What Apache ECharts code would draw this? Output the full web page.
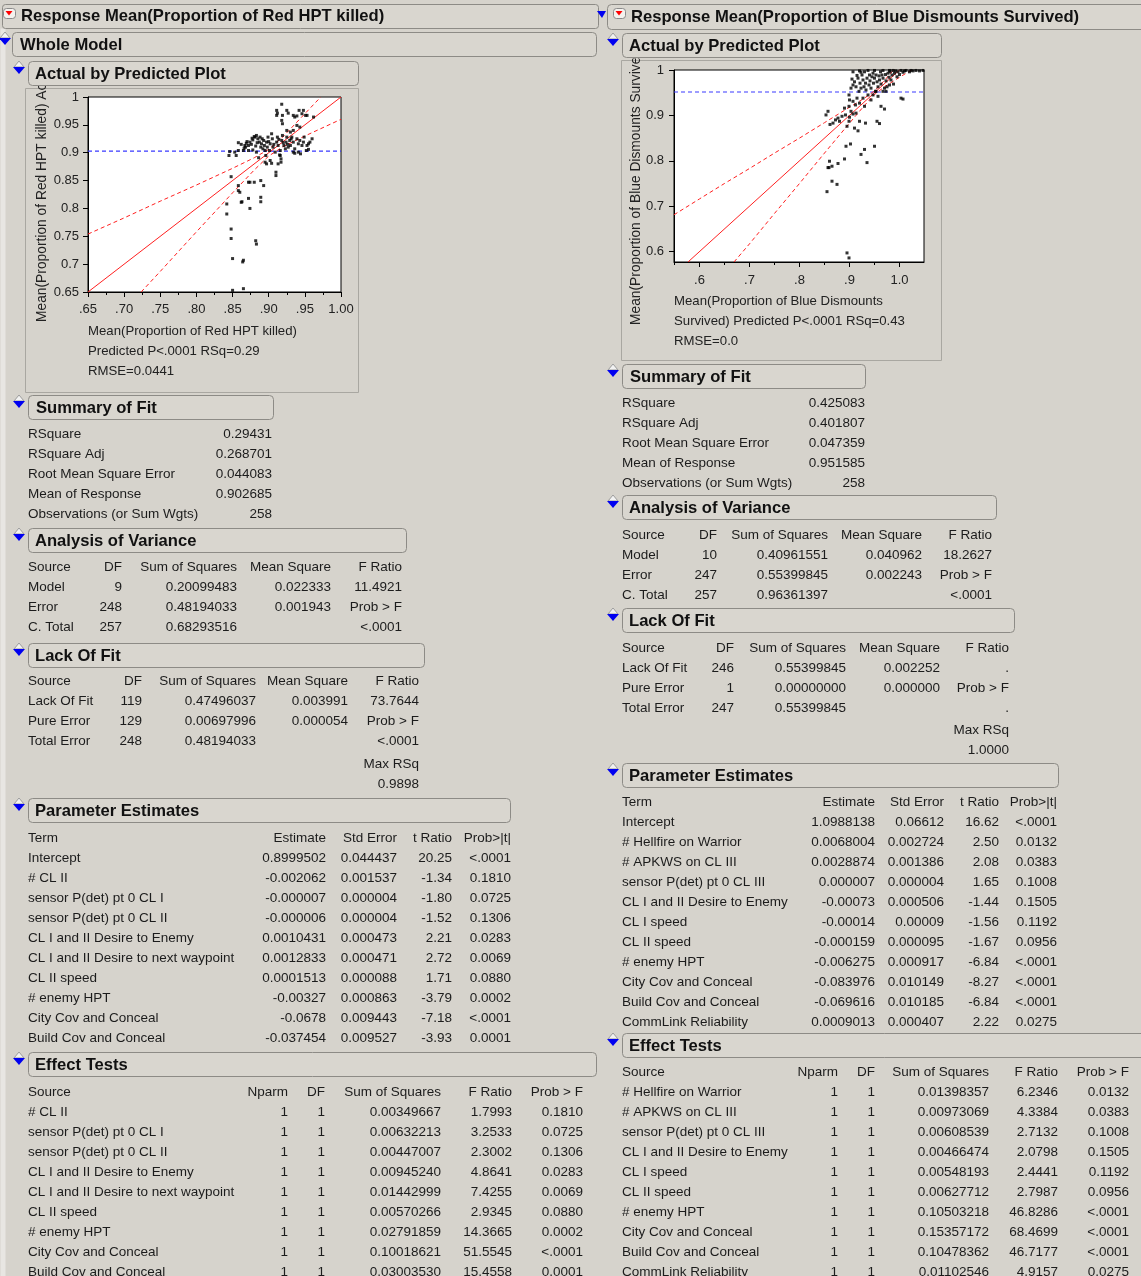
<!DOCTYPE html>
<html><head><meta charset="utf-8">
<script src="https://cdn.jsdelivr.net/npm/echarts@6/dist/echarts.min.js"></script>
<style>html,body{margin:0;padding:0;background:#d6d3cc;}#c{width:1141px;height:1276px;}</style>
</head><body><div id="c"></div>
<script>
// ---------------- DATA ----------------
const leftTitle = 'Response Mean(Proportion of Red HPT killed)';
const rightTitle = 'Response Mean(Proportion of Blue Dismounts Survived)';
const sectionTitles = ['Whole Model','Actual by Predicted Plot','Summary of Fit','Analysis of Variance','Lack Of Fit','Parameter Estimates','Effect Tests'];

// Actual by predicted plots
const leftXTicks = [0.65,0.70,0.75,0.80,0.85,0.90,0.95,1.00];
const leftXTickLabels = ['.65','.70','.75','.80','.85','.90','.95','1.00'];
const leftXMinorTicks = [0.675,0.725,0.775,0.825,0.875,0.925,0.975];
const leftYTicks = [0.65,0.70,0.75,0.80,0.85,0.90,0.95,1.00];
const leftYTickLabels = ['0.65','0.7','0.75','0.8','0.85','0.9','0.95','1'];
const leftAxisText = ['Mean(Proportion of Red HPT killed)','Predicted P<.0001 RSq=0.29','RMSE=0.0441'];
const leftYName = 'Mean(Proportion of Red HPT killed) Actual';
const leftPoints = [
[0.845,0.895],[0.846,0.902],[0.858,0.918],[0.842,0.808],[0.842,0.790],[0.848,0.857],[0.848,0.763],[0.848,0.746],[0.850,0.710],[0.850,0.653],
[0.858,0.841],[0.858,0.832],[0.860,0.829],[0.862,0.811],[0.863,0.812],[0.864,0.704],[0.865,0.707],[0.865,0.656],[0.872,0.847],[0.874,0.847],
[0.880,0.847],[0.872,0.818],[0.874,0.800],[0.882,0.742],[0.883,0.736],[0.889,0.850],[0.893,0.841],[0.889,0.820],[0.889,0.812],[0.910,0.865],
[0.910,0.859],[0.902,0.886],[0.913,0.880],
[0.853,0.901],[0.855,0.895],[0.858,0.904],[0.867,0.913],[0.868,0.910],[0.869,0.917],[0.872,0.913],[0.874,0.919],[0.878,0.923],[0.880,0.929],
[0.881,0.928],[0.883,0.931],[0.885,0.925],[0.887,0.919],[0.888,0.928],[0.889,0.910],[0.890,0.916],[0.893,0.922],[0.894,0.913],[0.895,0.904],
[0.896,0.895],[0.897,0.919],[0.898,0.910],[0.899,0.928],[0.901,0.904],[0.902,0.916],[0.904,0.934],[0.905,0.925],[0.906,0.910],[0.909,0.901],
[0.911,0.919],[0.912,0.928],[0.913,0.913],[0.915,0.896],[0.916,0.904],[0.917,0.889],[0.918,0.922],[0.919,0.931],[0.921,0.913],[0.923,0.907],
[0.924,0.919],[0.925,0.928],[0.927,0.910],[0.929,0.922],[0.930,0.913],[0.932,0.928],[0.934,0.919],[0.936,0.907],[0.939,0.925],[0.941,0.916],
[0.943,0.922],[0.946,0.913],[0.948,0.919],[0.949,0.928],[0.934,0.901],[0.936,0.899],[0.941,0.901],[0.944,0.898],[0.953,0.913],[0.955,0.916],
[0.957,0.919],[0.960,0.925],[0.952,0.904],[0.955,0.906],[0.865,0.904],[0.872,0.904],[0.878,0.905],[0.883,0.901],[0.886,0.891],[0.895,0.883],
[0.897,0.880],[0.904,0.881],[0.916,0.895],[0.917,0.883],
[0.870,0.920],[0.876,0.915],[0.884,0.918],[0.891,0.925],[0.900,0.920],[0.907,0.915],[0.914,0.924],[0.920,0.918],[0.926,0.915],[0.931,0.925],
[0.862,0.915],[0.866,0.908],[0.877,0.926],[0.882,0.912],[0.892,0.907],
[0.911,0.976],[0.911,0.967],[0.912,0.971],[0.918,0.987],[0.919,0.967],[0.918,0.958],[0.919,0.952],[0.925,0.976],[0.927,0.971],[0.934,0.967],
[0.936,0.964],[0.939,0.966],[0.942,0.976],[0.946,0.970],[0.948,0.976],[0.951,0.967],[0.953,0.967],[0.962,0.964],[0.934,0.940],[0.939,0.949],
[0.943,0.946],[0.925,0.940],[0.930,0.937]
];
const leftFitLine = [[0.65,0.65],[1.00,1.00]];
const leftUpperBand = [[0.65,0.754],[0.70,0.783],[0.75,0.813],[0.80,0.842],[0.85,0.872],[0.88,0.891],[0.90,0.906],[0.92,0.929],[0.95,0.970],[0.972,1.0]];
const leftLowerBand = [[0.7235,0.65],[0.75,0.687],[0.80,0.758],[0.85,0.828],[0.88,0.869],[0.90,0.894],[0.92,0.911],[0.95,0.930],[1.00,0.960]];

const rightXTicks = [0.6,0.7,0.8,0.9,1.0];
const rightXTickLabels = ['.6','.7','.8','.9','1.0'];
const rightXMinorTicks = [0.55,0.65,0.75,0.85,0.95,1.05];
const rightYTicks = [0.6,0.7,0.8,0.9,1.0];
const rightYTickLabels = ['0.6','0.7','0.8','0.9','1'];
const rightAxisText = ['Mean(Proportion of Blue Dismounts','Survived) Predicted P<.0001 RSq=0.43','RMSE=0.0'];
const rightYName = 'Mean(Proportion of Blue Dismounts Survived) Actual';
const rightPoints = [
[0.855,0.732],[0.857,0.785],[0.859,0.785],[0.860,0.799],[0.865,0.788],[0.865,0.755],[0.875,0.748],[0.877,0.794],[0.890,0.804],[0.893,0.832],
[0.902,0.837],[0.895,0.597],[0.899,0.586],[0.923,0.814],[0.930,0.825],[0.935,0.796],[0.950,0.832],[0.932,0.883],[0.920,0.887],[0.917,0.866],
[0.955,0.887],[0.960,0.882],[0.963,0.920],[0.970,0.914],[1.003,0.938],[1.007,0.936],[0.853,0.901],[0.857,0.909],[0.861,0.880],[0.867,0.883],
[0.872,0.890],[0.877,0.894],[0.880,0.887],[0.885,0.898],[0.890,0.916],[0.892,0.901],[0.895,0.876],[0.899,0.887],[0.900,0.896],[0.903,0.909],
[0.907,0.903],[0.910,0.872],[0.913,0.905],[0.915,0.938],[0.899,0.945],[0.900,0.934],[0.903,0.960],[0.907,0.967],[0.910,0.974],[0.913,0.963],
[0.917,0.982],[0.919,0.953],[0.921,0.971],[0.923,0.960],[0.925,0.989],[0.927,0.978],[0.929,0.963],[0.930,0.996],[0.932,0.971],[0.933,0.956],
[0.935,0.982],[0.937,0.945],[0.939,0.967],[0.940,0.989],[0.941,0.976],[0.943,0.960],[0.945,0.985],[0.947,0.993],[0.948,0.971],[0.950,0.982],
[0.952,0.953],[0.953,0.989],[0.955,0.974],[0.957,0.963],[0.959,0.987],[0.960,0.978],[0.962,0.996],[0.963,0.969],[0.965,0.989],[0.967,0.982],
[0.970,0.960],[0.972,0.990],[0.973,0.976],[0.975,0.963],[0.977,0.993],[0.979,0.984],[0.981,0.996],[0.983,0.978],[0.985,0.989],[0.988,0.969],
[0.990,0.993],[0.992,0.998],[0.995,0.985],[0.997,0.996],[1.000,0.990],[1.003,0.999],[1.007,0.995],[1.010,0.998],[1.013,0.999],[1.020,0.996],
[1.023,0.999],[1.027,0.998],[1.033,0.999],[1.040,0.998],[1.047,0.999],[0.907,0.996],[0.920,0.998],[0.937,0.999],[0.950,0.999],[0.967,0.999],
[0.980,0.999],[0.987,0.999],[0.905,0.980],[0.915,0.988],[0.923,0.995],[0.947,0.945],[0.957,0.942],[0.953,0.953],[0.973,0.953],[0.980,0.967],
[0.912,0.923],[0.920,0.927],[0.927,0.938],[0.907,0.931],[0.899,0.920],[0.930,0.920],[0.943,0.934],[0.967,0.953]
];
const rightFitLine = [[0.577,0.577],[1.0,1.0]];
const rightUpperBand = [[0.549,0.681],[0.60,0.716],[0.65,0.750],[0.70,0.783],[0.75,0.817],[0.80,0.850],[0.85,0.884],[0.90,0.918],[0.93,0.938],[0.95,0.954],[0.97,0.977],[0.988,1.0]];
const rightLowerBand = [[0.669,0.577],[0.70,0.617],[0.75,0.684],[0.80,0.750],[0.85,0.817],[0.90,0.883],[0.93,0.922],[0.95,0.946],[0.97,0.963],[1.00,0.984],[1.024,1.0]];

// Summary of Fit
const sofLabels = ['RSquare','RSquare Adj','Root Mean Square Error','Mean of Response','Observations (or Sum Wgts)'];
const sofLeftValues = ['0.29431','0.268701','0.044083','0.902685','258'];
const sofRightValues = ['0.425083','0.401807','0.047359','0.951585','258'];
const leftMean = 0.902685, rightMean = 0.951585;

// Analysis of Variance
const anovaHeader = ['Source','DF','Sum of Squares','Mean Square','F Ratio'];
const anovaSources = ['Model','Error','C. Total'];
const anovaLeftDF = ['9','248','257'];
const anovaLeftSS = ['0.20099483','0.48194033','0.68293516'];
const anovaLeftMS = ['0.022333','0.001943',''];
const anovaLeftF = ['11.4921','Prob > F','<.0001'];
const anovaRightDF = ['10','247','257'];
const anovaRightSS = ['0.40961551','0.55399845','0.96361397'];
const anovaRightMS = ['0.040962','0.002243',''];
const anovaRightF = ['18.2627','Prob > F','<.0001'];

// Lack of Fit
const lofSources = ['Lack Of Fit','Pure Error','Total Error'];
const lofLeftDF = ['119','129','248'];
const lofLeftSS = ['0.47496037','0.00697996','0.48194033'];
const lofLeftMS = ['0.003991','0.000054',''];
const lofLeftF = ['73.7644','Prob > F','<.0001','Max RSq','0.9898'];
const lofRightDF = ['246','1','247'];
const lofRightSS = ['0.55399845','0.00000000','0.55399845'];
const lofRightMS = ['0.002252','0.000000',''];
const lofRightF = ['.','Prob > F','.','Max RSq','1.0000'];

// Parameter Estimates
const peHeader = ['Term','Estimate','Std Error','t Ratio','Prob>|t|'];
const peLeftTerms = ['Intercept','# CL II','sensor P(det) pt 0 CL I','sensor P(det) pt 0 CL II','CL I and II Desire to Enemy','CL I and II Desire to next waypoint','CL II speed','# enemy HPT','City Cov and Conceal','Build Cov and Conceal'];
const peLeftEst = ['0.8999502','-0.002062','-0.000007','-0.000006','0.0010431','0.0012833','0.0001513','-0.00327','-0.0678','-0.037454'];
const peLeftSE = ['0.044437','0.001537','0.000004','0.000004','0.000473','0.000471','0.000088','0.000863','0.009443','0.009527'];
const peLeftT = ['20.25','-1.34','-1.80','-1.52','2.21','2.72','1.71','-3.79','-7.18','-3.93'];
const peLeftP = ['<.0001','0.1810','0.0725','0.1306','0.0283','0.0069','0.0880','0.0002','<.0001','0.0001'];
const peRightTerms = ['Intercept','# Hellfire on Warrior','# APKWS on CL III','sensor P(det) pt 0 CL III','CL I and II Desire to Enemy','CL I speed','CL II speed','# enemy HPT','City Cov and Conceal','Build Cov and Conceal','CommLink Reliability'];
const peRightEst = ['1.0988138','0.0068004','0.0028874','0.000007','-0.00073','-0.00014','-0.000159','-0.006275','-0.083976','-0.069616','0.0009013'];
const peRightSE = ['0.06612','0.002724','0.001386','0.000004','0.000506','0.00009','0.000095','0.000917','0.010149','0.010185','0.000407'];
const peRightT = ['16.62','2.50','2.08','1.65','-1.44','-1.56','-1.67','-6.84','-8.27','-6.84','2.22'];
const peRightP = ['<.0001','0.0132','0.0383','0.1008','0.1505','0.1192','0.0956','<.0001','<.0001','<.0001','0.0275'];

// Effect Tests
const etHeader = ['Source','Nparm','DF','Sum of Squares','F Ratio','Prob > F'];
const etLeftSources = ['# CL II','sensor P(det) pt 0 CL I','sensor P(det) pt 0 CL II','CL I and II Desire to Enemy','CL I and II Desire to next waypoint','CL II speed','# enemy HPT','City Cov and Conceal','Build Cov and Conceal'];
const etLeftNparm = ['1','1','1','1','1','1','1','1','1'];
const etLeftDF = ['1','1','1','1','1','1','1','1','1'];
const etLeftSS = ['0.00349667','0.00632213','0.00447007','0.00945240','0.01442999','0.00570266','0.02791859','0.10018621','0.03003530'];
const etLeftF = ['1.7993','3.2533','2.3002','4.8641','7.4255','2.9345','14.3665','51.5545','15.4558'];
const etLeftP = ['0.1810','0.0725','0.1306','0.0283','0.0069','0.0880','0.0002','<.0001','0.0001'];
const etRightSources = ['# Hellfire on Warrior','# APKWS on CL III','sensor P(det) pt 0 CL III','CL I and II Desire to Enemy','CL I speed','CL II speed','# enemy HPT','City Cov and Conceal','Build Cov and Conceal','CommLink Reliability'];
const etRightNparm = ['1','1','1','1','1','1','1','1','1','1'];
const etRightDF = ['1','1','1','1','1','1','1','1','1','1'];
const etRightSS = ['0.01398357','0.00973069','0.00608539','0.00466474','0.00548193','0.00627712','0.10503218','0.15357172','0.10478362','0.01102546'];
const etRightF = ['6.2346','4.3384','2.7132','2.0798','2.4441','2.7987','46.8286','68.4699','46.7177','4.9157'];
const etRightP = ['0.0132','0.0383','0.1008','0.1505','0.1192','0.0956','<.0001','<.0001','<.0001','0.0275'];

// ---------------- DRAWING ----------------
const FONT = '"Liberation Sans", Arial, sans-serif';
const BG = '#d6d3cc';
const TXT = '#1c1c1c';
const TSIZE = 13.5;
const HSIZE = 16.6;
const g = [];

function txt(x, y, s, align, opt) {
  opt = opt || {};
  g.push({type:'text', x:x, y:y, z:opt.z || 20, silent:true, rotation: opt.rot || 0,
    style:{text:s, align:align || 'left', verticalAlign:'middle', fontFamily:FONT,
      fontSize:opt.size || TSIZE, fontWeight:opt.bold ? 'bold' : 'normal', fill:opt.color || TXT}});
}
function rect(x1, y1, x2, y2, fill, stroke, r, z) {
  g.push({type:'rect', z:z || 10, silent:true,
    shape:{x:x1 + 0.5, y:y1 + 0.5, width:x2 - x1, height:y2 - y1, r:r || 0},
    style:{fill:fill || 'none', stroke:stroke || 'none', lineWidth:1}});
}
function blueIcon(cx, top) {
  g.push({type:'polygon', z:30, silent:true, shape:{points:[[cx-5,top+1],[cx,top-5],[cx+5,top+1]]},
    style:{fill:'#f2f2f2', stroke:'#9c9c9c', lineWidth:1}});
  g.push({type:'polygon', z:31, silent:true, shape:{points:[[cx-6,top+1],[cx+6,top+1],[cx,top+8]]},
    style:{fill:'#0000f0'}});
}
function redIcon(x, y) {
  rect(x, y, x + 12, y + 10, '#f4f2ee', '#8a8a8a', 3, 30);
  g.push({type:'polygon', z:31, silent:true, shape:{points:[[x+2.5,y+3],[x+9.5,y+3],[x+6,y+7.5]]}, style:{fill:'#ff0000'}});
}
function header(x1, y1, x2, y2, title, textX, iconX) {
  rect(x1, y1, x2, y2, '#d9d6cf', '#8d8b86', 4, 25);
  txt(textX, (y1 + y2) / 2 + 1, title, 'left', {bold:true, size:HSIZE, z:32, color:'#111'});
  if (iconX !== null) blueIcon(iconX, y1 + 5);
}
function table(cols, rowsY, columns, firstLeft) {
  columns.forEach((col, ci) => {
    col.forEach((s, ri) => {
      if (s === '' || ri >= rowsY.length) return;
      txt(cols[ci], rowsY[ri], s, (ci === 0 && firstLeft) ? 'left' : 'right');
    });
  });
}
function rowsFrom(y0, n, step) { const a = []; for (let i = 0; i < n; i++) a.push(y0 + i * step); return a; }

// left edge strip
rect(0, 28, 5, 1276, '#e8e6e2', 'none', 0, 1);

// ---- Left report ----
rect(2, 4, 598, 28, '#d9d6cf', '#8d8b86', 3, 24);
redIcon(3, 8);
txt(21, 16, leftTitle, 'left', {bold:true, size:HSIZE, z:32, color:'#111'});
header(12, 32, 596, 56, sectionTitles[0], 20, 5);
txt(42, 322, leftYName, 'left', {rot:Math.PI / 2, size:13.8, z:15, color:'#222'});
rect(28, 0, 60, 85, BG, 'none', 0, 18);
header(28, 61, 358, 85, sectionTitles[1], 35, 19);
rect(25, 88, 358, 392, 'none', '#a9a7a1', 0, 12);
leftAxisText.forEach((s, i) => txt(88, 331 + i * 20, s, 'left', {size:13.2, color:'#222'}));

header(28, 395, 273, 419, sectionTitles[2], 36, 19);
table([28, 272], rowsFrom(434, 5, 20), [sofLabels, sofLeftValues], true);

header(28, 528, 406, 552, sectionTitles[3], 35, 19);
table([28, 122, 237, 331, 402], [567], anovaHeader.map(h => [h]), true);
table([28, 122, 237, 331, 402], rowsFrom(587, 3, 20), [anovaSources, anovaLeftDF, anovaLeftSS, anovaLeftMS, anovaLeftF], true);

header(28, 643, 424, 667, sectionTitles[4], 35, 19);
table([28, 142, 256, 348, 419], [681], anovaHeader.map(h => [h]), true);
table([28, 142, 256, 348], rowsFrom(701, 3, 20), [lofSources, lofLeftDF, lofLeftSS, lofLeftMS], true);
table([419], [701, 721, 741, 764, 784], [lofLeftF], false);

header(28, 798, 510, 822, sectionTitles[5], 35, 19);
table([28, 326, 397, 452, 511], [838], peHeader.map(h => [h]), true);
table([28, 326, 397, 452, 511], rowsFrom(858, peLeftTerms.length, 20), [peLeftTerms, peLeftEst, peLeftSE, peLeftT, peLeftP], true);

header(28, 1052, 596, 1076, sectionTitles[6], 35, 19);
table([28, 288, 325, 441, 512, 583], [1092], etHeader.map(h => [h]), true);
table([28, 288, 325, 441, 512, 583], rowsFrom(1112, etLeftSources.length, 20), [etLeftSources, etLeftNparm, etLeftDF, etLeftSS, etLeftF, etLeftP], true);

// ---- Right report ----
g.push({type:'polygon', z:30, silent:true, shape:{points:[[597,11],[606,11],[602,18]]}, style:{fill:'#0000f0'}});
rect(607, 4, 1146, 29, '#d9d6cf', '#8d8b86', 4, 24);
redIcon(613, 8);
txt(631, 17, rightTitle, 'left', {bold:true, size:HSIZE, z:32, color:'#111'});
txt(636, 325, rightYName, 'left', {rot:Math.PI / 2, size:13.8, z:15, color:'#222'});
rect(622, 0, 652, 58, BG, 'none', 0, 18);
header(622, 33, 941, 57, sectionTitles[1], 629, 613);
rect(621, 60, 941, 360, 'none', '#a9a7a1', 0, 12);
rightAxisText.forEach((s, i) => txt(674, 301 + i * 20, s, 'left', {size:13.2, color:'#222'}));

header(622, 364, 865, 388, sectionTitles[2], 630, 613);
table([622, 865], rowsFrom(403, 5, 20), [sofLabels, sofRightValues], true);

header(622, 495, 996, 519, sectionTitles[3], 629, 613);
table([622, 717, 828, 922, 992], [535], anovaHeader.map(h => [h]), true);
table([622, 717, 828, 922, 992], rowsFrom(555, 3, 20), [anovaSources, anovaRightDF, anovaRightSS, anovaRightMS, anovaRightF], true);

header(622, 608, 1014, 632, sectionTitles[4], 629, 613);
table([622, 734, 846, 940, 1009], [648], anovaHeader.map(h => [h]), true);
table([622, 734, 846, 940], rowsFrom(668, 3, 20), [lofSources, lofRightDF, lofRightSS, lofRightMS], true);
table([1009], [668, 688, 708, 730, 750], [lofRightF], false);

header(622, 763, 1058, 787, sectionTitles[5], 629, 613);
table([622, 875, 944, 999, 1057], [802], peHeader.map(h => [h]), true);
table([622, 875, 944, 999, 1057], rowsFrom(822, peRightTerms.length, 20), [peRightTerms, peRightEst, peRightSE, peRightT, peRightP], true);

header(622, 1033, 1146, 1057, sectionTitles[6], 629, 613);
table([622, 838, 875, 989, 1058, 1129], [1072], etHeader.map(h => [h]), true);
table([622, 838, 875, 989, 1058, 1129], rowsFrom(1092, etRightSources.length, 20), [etRightSources, etRightNparm, etRightDF, etRightSS, etRightF, etRightP], true);

// ---------------- CHART ----------------
function labelMap(vals, labels) { const m = {}; vals.forEach((v, i) => m[v.toFixed(3)] = labels[i]); return v => m[v.toFixed(3)] || ''; }
const axisLab = {color:'#222', fontSize:13, fontFamily:FONT};
function xAxes(gi, min, max, ticks, labels, minor, margin) {
  return [
    {type:'value', gridIndex:gi, position:'bottom', min:min, max:max, splitLine:{show:false},
      axisLine:{show:true, lineStyle:{color:'#000'}},
      axisTick:{show:true, length:5, lineStyle:{color:'#000'}, customValues:ticks},
      axisLabel:Object.assign({customValues:ticks, margin:margin, formatter:labelMap(ticks, labels), showMinLabel:true, showMaxLabel:true}, axisLab)},
    {type:'value', gridIndex:gi, position:'bottom', min:min, max:max, splitLine:{show:false},
      axisLine:{show:false}, axisLabel:{show:false},
      axisTick:{show:true, length:3, lineStyle:{color:'#000'}, customValues:minor}}
  ];
}
function yAxis(gi, min, max, ticks, labels, margin) {
  return {type:'value', gridIndex:gi, min:min, max:max, splitLine:{show:false},
    axisLine:{show:true, lineStyle:{color:'#000'}},
    axisTick:{show:true, length:5, lineStyle:{color:'#000'}, customValues:ticks},
    axisLabel:Object.assign({customValues:ticks, margin:margin, formatter:labelMap(ticks, labels), showMinLabel:true, showMaxLabel:true}, axisLab)};
}
function lineSeries(xi, yi, data, color, dashed, width) {
  return {type:'line', xAxisIndex:xi, yAxisIndex:yi, data:data, showSymbol:false, symbol:'none', silent:true, z:3,
    lineStyle:{color:color, width:width || 1, type:dashed ? [4, 3] : 'solid'}, animation:false};
}

const chart = echarts.init(document.getElementById('c'), null, {renderer:'canvas'});
chart.setOption({
  backgroundColor: BG,
  animation: false,
  grid: [
    {left:88, top:97, width:253, height:195, show:true, backgroundColor:'#fff', borderColor:'#000', borderWidth:1},
    {left:674, top:70, width:250, height:192, show:true, backgroundColor:'#fff', borderColor:'#000', borderWidth:1}
  ],
  xAxis: xAxes(0, 0.65, 1.00, leftXTicks, leftXTickLabels, leftXMinorTicks, 11)
    .concat(xAxes(1, 0.549, 1.049, rightXTicks, rightXTickLabels, rightXMinorTicks, 12)),
  yAxis: [
    yAxis(0, 0.65, 1.00, leftYTicks, leftYTickLabels, 9),
    yAxis(1, 0.577, 1.0, rightYTicks, rightYTickLabels, 10)
  ],
  series: [
    lineSeries(0, 0, [[0.65, leftMean], [1.00, leftMean]], '#3a3aff', true, 1.2),
    lineSeries(0, 0, leftFitLine, '#ff2020', false, 1),
    lineSeries(0, 0, leftUpperBand, '#ff2020', true, 1),
    lineSeries(0, 0, leftLowerBand, '#ff2020', true, 1),
    {type:'scatter', xAxisIndex:0, yAxisIndex:0, data:leftPoints, symbol:'rect', symbolSize:3, itemStyle:{color:'#000'}, silent:true, z:4},
    lineSeries(2, 1, [[0.549, rightMean], [1.049, rightMean]], '#3a3aff', true, 1.2),
    lineSeries(2, 1, rightFitLine, '#ff2020', false, 1),
    lineSeries(2, 1, rightUpperBand, '#ff2020', true, 1),
    lineSeries(2, 1, rightLowerBand, '#ff2020', true, 1),
    {type:'scatter', xAxisIndex:2, yAxisIndex:1, data:rightPoints, symbol:'rect', symbolSize:3, itemStyle:{color:'#000'}, silent:true, z:4}
  ],
  graphic: {elements: g}
});
</script></body></html>
